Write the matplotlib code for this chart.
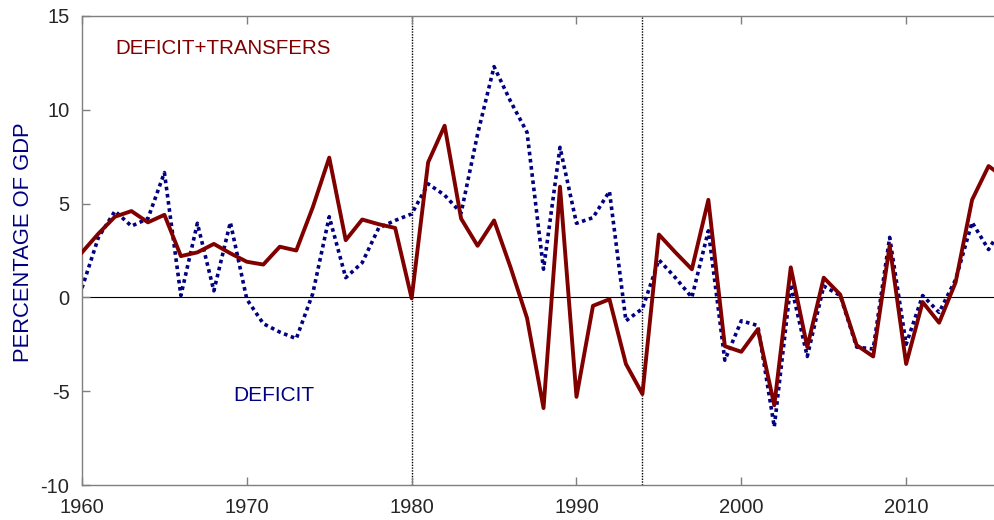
import numpy as np
import matplotlib
matplotlib.use('Agg')
import matplotlib.pyplot as plt

plt.rcParams['font.family'] = ['Liberation Sans', 'DejaVu Sans']
plt.rcParams['axes.unicode_minus'] = False

ANOS = np.arange(1960, 2017)

DEFICIT_TRANSF = [
    2.4, 3.4, 4.3, 4.6, 4.0, 4.4, 2.2, 2.4, 2.85, 2.35,
    1.9, 1.75, 2.7, 2.5, 4.8, 7.45, 3.05, 4.15, 3.9, 3.7,
    -0.05, 7.2, 9.15, 4.2, 2.75, 4.1, 1.6, -1.1, -5.9, 5.9,
    -5.3, -0.45, -0.1, -3.55, -5.15, 3.35, 2.4, 1.5, 5.2, -2.6,
    -2.9, -1.7, -5.75, 1.6, -2.65, 1.05, 0.15, -2.55, -3.15, 2.75,
    -3.55, -0.25, -1.35, 0.8, 5.2, 7.0, 6.35,
]

DEFICIT = [
    0.5, 3.2, 4.6, 3.8, 4.2, 6.65, 0.1, 3.95, 0.35, 4.0,
    -0.1, -1.4, -1.85, -2.2, 0.2, 4.3, 1.05, 1.85, 3.7, 4.1,
    4.45, 6.05, 5.45, 4.5, 8.7, 12.3, 10.45, 8.8, 1.5, 8.0,
    3.95, 4.25, 5.65, -1.25, -0.6, 2.0, 1.05, 0.0, 3.55, -3.35,
    -1.25, -1.5, -6.9, 0.7, -3.15, 0.6, 0.1, -2.65, -2.75, 3.2,
    -2.5, 0.1, -0.8, 0.95, 4.0, 2.55, 4.0,
]

ANOS_QUEBRA = [1980, 1994]
X_TICKS = [1960, 1970, 1980, 1990, 2000, 2010]
Y_TICKS = [-10, -5, 0, 5, 10, 15]

VERMELHO = '#800000'
AZUL = '#000080'

fig = plt.figure(figsize=(9.95, 5.20), dpi=100)
ax = fig.add_axes([0.0824, 0.0673, 0.9277, 0.902])

ax.axhline(0, color='black', linewidth=0.8, zorder=1)
for a in ANOS_QUEBRA:
    ax.axvline(a, color='black', linewidth=1.0, linestyle=(0, (1, 1)), zorder=1)

ax.plot(ANOS, DEFICIT, color=AZUL, linewidth=2.6, linestyle=(0, (1, 1.0)), zorder=2)
ax.plot(ANOS, DEFICIT_TRANSF, color=VERMELHO, linewidth=2.8, zorder=3)

ax.set_xlim(1960, 2016)
ax.set_ylim(-10, 15)
ax.set_xticks(X_TICKS)
ax.set_yticks(Y_TICKS)

for s in ax.spines.values():
    s.set_color('#7f7f7f')
    s.set_linewidth(1.0)
ax.tick_params(direction='in', length=6, width=1.0, color='#7f7f7f',
               labelsize=14.5, labelcolor='#262626', top=True, right=True)
ax.tick_params(axis='x', pad=9)
ax.tick_params(axis='y', pad=9)

ax.set_ylabel('PERCENTAGE OF GDP', fontsize=15.8, color=AZUL)
ax.yaxis.set_label_coords(-0.052, 0.518)

ax.text(1962.0, 13.28, 'DEFICIT+TRANSFERS', fontsize=14.8, color=VERMELHO, va='center')
ax.text(1969.16, -5.23, 'DEFICIT', fontsize=15, color=AZUL, va='center')

fig.savefig('out.png', dpi=100)
plt.close(fig)
